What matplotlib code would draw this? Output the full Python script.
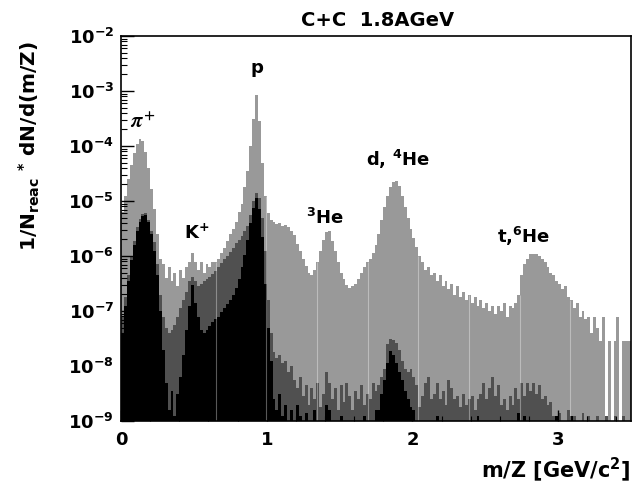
import matplotlib
matplotlib.use('Agg')
import matplotlib.pyplot as plt
import numpy as np
from matplotlib.ticker import MultipleLocator, LogLocator, NullFormatter

plt.rcParams['font.family'] = 'DejaVu Sans'
plt.rcParams['font.weight'] = 'bold'
plt.rcParams['mathtext.fontset'] = 'custom'
plt.rcParams['mathtext.rm'] = 'DejaVu Sans:bold'
plt.rcParams['mathtext.bf'] = 'DejaVu Sans:bold'
plt.rcParams['mathtext.it'] = 'DejaVu Sans:bold'

# histogram binning in m/Z
bin_width = 0.02
n_bins = 175

# log10 of 1/N dN/d(m/Z), one row = 10 bins = 0.2 GeV/c^2 ; -12 = empty bin
light_log = [
    -5.2, -4.9, -4.6, -4.35, -4.12, -3.97, -3.88, -3.9, -4.1, -4.4,          # 0.0-0.2
    -4.78, -5.15, -5.6, -6.05, -6.15, -6.4, -6.2, -6.45, -6.3, -6.55,        # 0.2-0.4
    -6.25, -6.4, -6.2, -6.1, -5.95, -6.1, -6.25, -6.1, -6.3, -6.15,          # 0.4-0.6
    -6.2, -6.1, -6.1, -6.05, -5.95, -5.85, -5.72, -5.6, -5.5, -5.38,         # 0.6-0.8
    -5.2, -5.05, -4.75, -4.45, -4.0, -3.5, -3.08, -3.55, -4.3, -4.9,         # 0.8-1.0
    -5.22, -5.35, -5.38, -5.42, -5.4, -5.45, -5.43, -5.48, -5.55, -5.62,     # 1.0-1.2
    -5.78, -5.9, -6.05, -6.18, -6.3, -6.35, -6.25, -6.1, -5.9, -5.7,         # 1.2-1.4
    -5.56, -5.55, -5.72, -5.9, -6.1, -6.3, -6.42, -6.52, -6.58, -6.55,       # 1.4-1.6
    -6.5, -6.42, -6.3, -6.2, -6.1, -6.05, -5.95, -5.8, -5.6, -5.35,          # 1.6-1.8
    -5.1, -4.9, -4.75, -4.65, -4.63, -4.72, -4.9, -5.1, -5.3, -5.5,          # 1.8-2.0
    -5.68, -5.84, -6.0, -6.1, -6.25, -6.2, -6.35, -6.3, -6.45, -6.35,        # 2.0-2.2
    -6.55, -6.45, -6.6, -6.5, -6.7, -6.55, -6.75, -6.65, -6.8, -6.7,         # 2.2-2.4
    -6.85, -6.75, -6.9, -6.8, -6.95, -6.85, -7.0, -6.9, -7.05, -6.9,         # 2.4-2.6
    -7.0, -6.85, -7.1, -6.9, -6.95, -6.85, -6.7, -6.35, -6.15, -6.05,        # 2.6-2.8
    -5.97, -5.96, -5.97, -6.0, -6.05, -6.1, -6.2, -6.3, -6.35, -6.45,        # 2.8-3.0
    -6.5, -6.6, -6.55, -6.75, -6.8, -6.95, -6.85, -7.1, -7.0, -7.15,         # 3.0-3.2
    -7.1, -7.4, -7.1, -7.3, -7.55, -7.1, -12, -7.55, -12, -7.55,             # 3.2-3.4
    -7.1, -12, -7.55, -7.55, -7.55,                                          # 3.4-3.5
]

dark_log = [
    -7.1, -6.75, -6.35, -6.0, -5.72, -5.48, -5.32, -5.23, -5.22, -5.35,
    -5.55, -5.75, -6.15, -6.7, -7.1, -7.3, -7.4, -7.35, -7.25, -7.1,
    -6.95, -6.8, -6.65, -6.45, -6.38, -6.45, -6.55, -6.5, -6.45, -6.42,
    -6.38, -6.33, -6.27, -6.2, -6.13, -6.06, -6.0, -5.92, -5.85, -5.77,
    -5.7, -5.63, -5.55, -5.45, -5.25, -5.0, -4.86, -4.95, -5.3, -5.9,
    -6.8, -7.4, -7.75, -7.85, -7.8, -7.95, -7.9, -8.1, -8.0, -8.25,
    -8.4, -8.2, -8.55, -8.35, -8.7, -8.4, -8.6, -8.3, -8.75, -8.5,
    -8.1, -8.3, -8.6, -8.4, -8.8, -8.35, -8.65, -8.3, -8.55, -8.8,
    -8.45, -8.6, -8.35, -8.7, -8.5, -8.6, -8.3, -8.45, -8.35, -8.2,
    -8.05, -7.6, -7.5, -7.52, -7.58, -7.7, -7.9, -8.05, -8.1, -8.05,
    -8.2, -8.35, -8.75, -8.55, -8.3, -8.2, -8.6, -8.5, -8.3, -8.6,
    -8.45, -8.7, -8.25, -8.4, -8.6, -8.55, -8.75, -8.5, -8.7, -8.6,
    -8.55, -8.8, -8.6, -8.5, -8.3, -8.6, -8.4, -8.2, -8.55, -8.35,
    -8.7, -8.6, -8.8, -8.55, -8.7, -8.4, -8.6, -8.3, -8.55, -8.3,
    -8.45, -8.3, -8.5, -8.35, -8.6, -8.55, -8.7, -8.65, -8.9, -12,
    -8.85, -12, -12, -8.8, -12, -8.9, -12, -12, -8.85, -12,
    -8.9, -12, -12, -8.9, -12, -12, -8.9, -12, -12, -8.9,
    -12, -12, -8.9, -12, -12,
]

black_log = [
    -7.4, -6.9, -6.45, -6.08, -5.8, -5.55, -5.38, -5.28, -5.25, -5.38,
    -5.6, -5.9, -6.35, -7.0, -7.7, -8.3, -8.8, -8.45, -8.9, -8.5,
    -8.2, -7.8, -7.35, -6.9, -6.52, -6.85, -7.1, -7.35, -7.4, -7.35,
    -7.28, -7.2, -7.15, -7.1, -7.02, -6.95, -6.88, -6.8, -6.7, -6.58,
    -6.42, -6.2, -5.98, -5.7, -5.4, -5.12, -4.95, -5.15, -5.65, -6.5,
    -7.3, -7.9, -8.6, -8.8, -8.5, -8.9, -8.7, -12, -8.8, -12,
    -8.7, -8.9, -12, -8.85, -12, -12, -8.8, -12, -12, -12,
    -8.7, -8.8, -12, -12, -12, -8.9, -12, -12, -12, -12,
    -12, -12, -12, -8.9, -12, -12, -12, -8.8, -8.8, -8.5,
    -8.25, -7.95, -7.72, -7.8, -7.95, -8.1, -8.25, -8.45, -8.6, -8.75,
    -8.8, -12, -12, -12, -12, -12, -12, -12, -8.9, -12,
    -12, -12, -12, -12, -12, -12, -12, -12, -12, -12,
    -12, -12, -8.9, -12, -12, -12, -12, -12, -12, -12,
    -12, -12, -12, -12, -12, -12, -8.85, -12, -8.9, -12,
    -12, -12, -12, -12, -12, -12, -12, -12, -12, -8.9,
    -12, -12, -12, -12, -8.9, -12, -12, -12, -12, -12,
    -12, -12, -12, -12, -12, -12, -12, -12, -12, -12,
    -12, -12, -12, -12, -12,
]

# thin light seams visible through the filled histograms
seam_x = [0.65, 0.995, 1.345, 1.693, 2.04, 2.39, 2.735, 3.083]

# peak labels
peak_labels = [r'$^{3}$He', r'd, $^{4}$He', r't,$^{6}$He', 'p', r'K$^{+}$']
peak_x = [1.40, 1.90, 2.76, 0.935, 0.52]
peak_y = [10**-5.3, 10**-4.25, 10**-5.65, 10**-2.58, 10**-5.58]

y_exponents = [-9, -8, -7, -6, -5, -4, -3, -2]
x_ticks = [0, 1, 2, 3]

edges = np.arange(n_bins + 1) * bin_width
light = 10.0 ** np.array(light_log)
dark = 10.0 ** np.array(dark_log)
black = 10.0 ** np.array(black_log)

fig = plt.figure(figsize=(6.38, 4.86), dpi=100)
ax = fig.add_axes([0.1897, 0.1337, 0.7994, 0.7922])
ax.set_yscale('log')

ax.stairs(light, edges, fill=True, baseline=1e-12, color='#999999', lw=0)
ax.stairs(dark, edges, fill=True, baseline=1e-12, color='#505050', lw=0)
ax.stairs(black, edges, fill=True, baseline=1e-12, color='#000000', lw=0)

seam_idx = (np.array(seam_x) / bin_width).astype(int)
ax.vlines(seam_x, 1e-9, light[seam_idx], color='white', alpha=0.35, lw=0.8)

ax.set_xlim(0, 3.5)
ax.set_ylim(1e-9, 1e-2)

ax.set_yticks([10.0**e for e in y_exponents])
ax.set_yticklabels([r'$10^{%d}$' % e for e in y_exponents])
ax.yaxis.set_minor_locator(LogLocator(base=10, subs=np.arange(2, 10)))
ax.yaxis.set_minor_formatter(NullFormatter())
ax.set_xticks(x_ticks)
ax.set_xticklabels([str(t) for t in x_ticks])
ax.xaxis.set_minor_locator(MultipleLocator(0.2))

ax.tick_params(axis='both', which='both', direction='in', top=False, right=False)
ax.tick_params(axis='y', which='major', length=9, width=1.0, labelsize=13, pad=5)
ax.tick_params(axis='y', which='minor', length=4.5, width=0.8)
ax.tick_params(axis='x', which='major', length=8, width=1.0, labelsize=13, pad=7)
ax.tick_params(axis='x', which='minor', length=3.5, width=0.8)
for sp in ax.spines.values():
    sp.set_linewidth(1.2)

for lab, xx, yy in zip(peak_labels, peak_x, peak_y):
    ax.text(xx, yy, lab, fontsize=13, fontweight='bold', ha='center', va='center')
ax.text(0.15, 10**-3.56, r'$\pi^{\mathbf{+}}$', fontsize=15, ha='center',
        va='center', math_fontfamily='stix')

fig.text(0.592, 0.958, 'C+C  1.8AGeV', fontsize=14, fontweight='bold',
         ha='center', va='center')
fig.text(0.988, 0.033, r'm/Z [GeV/c$^{2}$]', fontsize=15, fontweight='bold',
         ha='right', va='center')
fig.text(0.046, 0.915, r'1/N$_{reac}$ $^{*}$ dN/d(m/Z)', fontsize=14.5,
         fontweight='bold', rotation=90, ha='center', va='top')

fig.savefig('out.png', dpi=100)
